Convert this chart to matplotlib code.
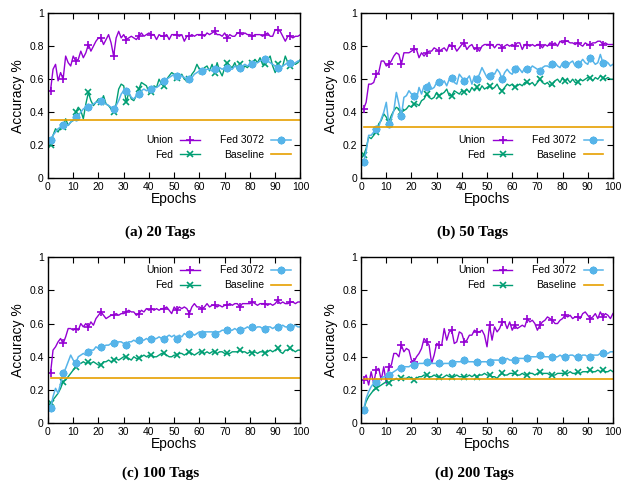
import numpy as np
import matplotlib
matplotlib.use("Agg")
import matplotlib.pyplot as plt

plt.rcParams['font.family'] = ['Liberation Sans', 'DejaVu Sans']

epochs = np.arange(1, 101)

# (a) 20 tags
union_20 = [0.53, 0.66, 0.69, 0.59, 0.64, 0.60, 0.74, 0.70, 0.68, 0.74,
            0.71, 0.72, 0.77, 0.73, 0.76, 0.81, 0.77, 0.80, 0.83, 0.85,
            0.85, 0.81, 0.84, 0.87, 0.82, 0.74, 0.85, 0.89, 0.85, 0.87,
            0.84, 0.85, 0.86, 0.85, 0.84, 0.86, 0.88, 0.86, 0.87, 0.88,
            0.87, 0.87, 0.84, 0.87, 0.86, 0.86, 0.87, 0.84, 0.87, 0.87,
            0.87, 0.86, 0.87, 0.83, 0.86, 0.86, 0.87, 0.86, 0.87, 0.87,
            0.87, 0.86, 0.88, 0.87, 0.88, 0.89, 0.87, 0.87, 0.86, 0.88,
            0.85, 0.87, 0.86, 0.86, 0.88, 0.88, 0.87, 0.88, 0.87, 0.87,
            0.86, 0.87, 0.87, 0.87, 0.86, 0.87, 0.88, 0.86, 0.86, 0.90,
            0.90, 0.89, 0.86, 0.83, 0.86, 0.86, 0.85, 0.86, 0.86, 0.87]
fed_20 = [0.20, 0.26, 0.30, 0.28, 0.31, 0.31, 0.36, 0.32, 0.34, 0.35,
          0.40, 0.43, 0.41, 0.36, 0.45, 0.52, 0.47, 0.44, 0.46, 0.48,
          0.46, 0.50, 0.45, 0.44, 0.42, 0.40, 0.45, 0.54, 0.57, 0.56,
          0.46, 0.52, 0.48, 0.47, 0.50, 0.54, 0.58, 0.57, 0.56, 0.52,
          0.52, 0.56, 0.55, 0.60, 0.57, 0.56, 0.60, 0.62, 0.64, 0.63,
          0.61, 0.62, 0.63, 0.60, 0.59, 0.60, 0.63, 0.65, 0.69, 0.66,
          0.65, 0.67, 0.68, 0.65, 0.69, 0.64, 0.70, 0.65, 0.62, 0.67,
          0.70, 0.68, 0.67, 0.70, 0.66, 0.69, 0.66, 0.68, 0.67, 0.69,
          0.70, 0.72, 0.70, 0.73, 0.69, 0.69, 0.72, 0.74, 0.68, 0.64,
          0.69, 0.67, 0.68, 0.74, 0.70, 0.68, 0.70, 0.69, 0.70, 0.72]
fed3072_20 = [0.23, 0.26, 0.28, 0.30, 0.31, 0.32, 0.33, 0.32, 0.34, 0.35,
              0.37, 0.38, 0.40, 0.42, 0.43, 0.43, 0.44, 0.45, 0.46, 0.46,
              0.47, 0.46, 0.45, 0.44, 0.43, 0.42, 0.44, 0.47, 0.51, 0.53,
              0.53, 0.52, 0.49, 0.48, 0.50, 0.51, 0.53, 0.54, 0.53, 0.54,
              0.54, 0.55, 0.55, 0.56, 0.58, 0.59, 0.60, 0.61, 0.62, 0.63,
              0.62, 0.63, 0.62, 0.61, 0.60, 0.60, 0.61, 0.63, 0.64, 0.65,
              0.65, 0.65, 0.66, 0.66, 0.65, 0.66, 0.66, 0.67, 0.66, 0.67,
              0.67, 0.66, 0.66, 0.68, 0.67, 0.67, 0.68, 0.69, 0.68, 0.69,
              0.69, 0.70, 0.70, 0.71, 0.72, 0.72, 0.71, 0.70, 0.69, 0.68,
              0.67, 0.67, 0.68, 0.69, 0.70, 0.70, 0.69, 0.70, 0.71, 0.71]
baseline_20 = 0.35

# (b) 50 tags
union_50 = [0.42, 0.46, 0.57, 0.57, 0.58, 0.63, 0.64, 0.71, 0.71, 0.68,
            0.69, 0.71, 0.74, 0.76, 0.75, 0.69, 0.76, 0.76, 0.76, 0.77,
            0.78, 0.78, 0.73, 0.76, 0.74, 0.76, 0.77, 0.77, 0.79, 0.78,
            0.77, 0.78, 0.79, 0.77, 0.81, 0.80, 0.80, 0.77, 0.79, 0.81,
            0.82, 0.78, 0.80, 0.81, 0.78, 0.79, 0.77, 0.80, 0.81, 0.81,
            0.81, 0.81, 0.79, 0.81, 0.81, 0.79, 0.80, 0.81, 0.80, 0.81,
            0.80, 0.82, 0.82, 0.78, 0.81, 0.81, 0.80, 0.81, 0.80, 0.81,
            0.81, 0.79, 0.81, 0.80, 0.82, 0.81, 0.82, 0.80, 0.83, 0.82,
            0.83, 0.83, 0.82, 0.82, 0.81, 0.82, 0.81, 0.80, 0.82, 0.81,
            0.81, 0.82, 0.82, 0.83, 0.83, 0.81, 0.82, 0.81, 0.81, 0.81]
fed_50 = [0.14, 0.18, 0.25, 0.24, 0.26, 0.28, 0.33, 0.35, 0.39, 0.37,
          0.34, 0.38, 0.41, 0.43, 0.42, 0.40, 0.41, 0.42, 0.44, 0.43,
          0.45, 0.45, 0.44, 0.47, 0.48, 0.51, 0.49, 0.48, 0.49, 0.52,
          0.50, 0.51, 0.52, 0.54, 0.50, 0.50, 0.53, 0.52, 0.51, 0.53,
          0.52, 0.54, 0.52, 0.55, 0.53, 0.55, 0.53, 0.56, 0.54, 0.55,
          0.56, 0.54, 0.55, 0.57, 0.54, 0.53, 0.55, 0.57, 0.56, 0.57,
          0.55, 0.56, 0.57, 0.56, 0.58, 0.58, 0.57, 0.58, 0.56, 0.58,
          0.60, 0.58, 0.57, 0.58, 0.56, 0.57, 0.59, 0.60, 0.58, 0.61,
          0.59, 0.60, 0.58, 0.60, 0.58, 0.58, 0.60, 0.59, 0.60, 0.61,
          0.61, 0.59, 0.61, 0.60, 0.62, 0.61, 0.60, 0.61, 0.60, 0.60]
fed3072_50 = [0.10, 0.16, 0.26, 0.26, 0.28, 0.30, 0.31, 0.36, 0.40, 0.46,
              0.33, 0.36, 0.41, 0.52, 0.45, 0.38, 0.49, 0.50, 0.53, 0.51,
              0.50, 0.48, 0.55, 0.51, 0.56, 0.55, 0.58, 0.54, 0.55, 0.58,
              0.58, 0.57, 0.59, 0.56, 0.60, 0.61, 0.58, 0.57, 0.63, 0.61,
              0.59, 0.60, 0.62, 0.57, 0.62, 0.60, 0.63, 0.67, 0.64, 0.61,
              0.62, 0.64, 0.63, 0.66, 0.64, 0.60, 0.64, 0.66, 0.64, 0.63,
              0.66, 0.68, 0.66, 0.64, 0.67, 0.66, 0.66, 0.68, 0.67, 0.66,
              0.65, 0.67, 0.68, 0.68, 0.67, 0.69, 0.70, 0.68, 0.67, 0.70,
              0.69, 0.68, 0.70, 0.71, 0.68, 0.69, 0.70, 0.72, 0.70, 0.69,
              0.73, 0.71, 0.69, 0.70, 0.75, 0.70, 0.71, 0.70, 0.68, 0.69]
baseline_50 = 0.31

# (c) 100 tags
union_100 = [0.30, 0.44, 0.46, 0.49, 0.51, 0.48, 0.52, 0.57, 0.57, 0.56,
             0.57, 0.56, 0.60, 0.58, 0.60, 0.58, 0.61, 0.59, 0.63, 0.65,
             0.67, 0.65, 0.63, 0.64, 0.65, 0.65, 0.66, 0.65, 0.66, 0.66,
             0.67, 0.68, 0.67, 0.67, 0.65, 0.66, 0.68, 0.67, 0.69, 0.68,
             0.69, 0.68, 0.69, 0.68, 0.69, 0.69, 0.70, 0.68, 0.66, 0.70,
             0.68, 0.70, 0.69, 0.70, 0.69, 0.66, 0.70, 0.72, 0.70, 0.70,
             0.69, 0.70, 0.72, 0.70, 0.71, 0.71, 0.70, 0.71, 0.70, 0.71,
             0.71, 0.72, 0.71, 0.72, 0.72, 0.70, 0.72, 0.72, 0.72, 0.72,
             0.73, 0.72, 0.71, 0.72, 0.72, 0.72, 0.71, 0.72, 0.71, 0.72,
             0.74, 0.72, 0.73, 0.72, 0.72, 0.73, 0.73, 0.72, 0.73, 0.73]
fed_100 = [0.12, 0.14, 0.16, 0.18, 0.21, 0.25, 0.26, 0.28, 0.30, 0.32,
           0.34, 0.36, 0.36, 0.37, 0.36, 0.37, 0.36, 0.37, 0.36, 0.35,
           0.35, 0.37, 0.37, 0.38, 0.37, 0.38, 0.39, 0.38, 0.39, 0.40,
           0.40, 0.39, 0.38, 0.40, 0.39, 0.39, 0.40, 0.41, 0.40, 0.41,
           0.41, 0.40, 0.40, 0.41, 0.42, 0.42, 0.41, 0.40, 0.40, 0.41,
           0.41, 0.42, 0.42, 0.41, 0.42, 0.43, 0.42, 0.41, 0.42, 0.43,
           0.43, 0.42, 0.43, 0.42, 0.43, 0.43, 0.42, 0.43, 0.43, 0.42,
           0.42, 0.42, 0.43, 0.43, 0.43, 0.44, 0.43, 0.43, 0.42, 0.43,
           0.42, 0.43, 0.42, 0.43, 0.43, 0.42, 0.43, 0.44, 0.43, 0.44,
           0.45, 0.43, 0.42, 0.44, 0.44, 0.45, 0.44, 0.43, 0.44, 0.44]
fed3072_100 = [0.09, 0.16, 0.21, 0.18, 0.24, 0.30, 0.33, 0.37, 0.41, 0.38,
               0.36, 0.40, 0.41, 0.42, 0.41, 0.43, 0.44, 0.44, 0.46, 0.45,
               0.46, 0.46, 0.47, 0.47, 0.48, 0.48, 0.48, 0.49, 0.49, 0.48,
               0.47, 0.49, 0.49, 0.50, 0.49, 0.50, 0.50, 0.50, 0.51, 0.50,
               0.51, 0.51, 0.51, 0.52, 0.51, 0.51, 0.52, 0.53, 0.52, 0.53,
               0.51, 0.53, 0.52, 0.54, 0.53, 0.54, 0.54, 0.53, 0.54, 0.55,
               0.54, 0.55, 0.55, 0.55, 0.55, 0.54, 0.55, 0.55, 0.56, 0.56,
               0.56, 0.56, 0.56, 0.57, 0.56, 0.56, 0.57, 0.57, 0.58, 0.57,
               0.58, 0.57, 0.58, 0.58, 0.57, 0.57, 0.58, 0.58, 0.57, 0.58,
               0.58, 0.58, 0.59, 0.58, 0.58, 0.58, 0.58, 0.59, 0.58, 0.58]
baseline_100 = 0.275

# (d) 200 tags
union_200 = [0.26, 0.29, 0.23, 0.31, 0.24, 0.32, 0.33, 0.26, 0.34, 0.24,
             0.34, 0.35, 0.42, 0.42, 0.40, 0.47, 0.43, 0.45, 0.44, 0.38,
             0.37, 0.40, 0.42, 0.45, 0.51, 0.49, 0.47, 0.36, 0.41, 0.48,
             0.47, 0.47, 0.57, 0.50, 0.55, 0.56, 0.48, 0.49, 0.55, 0.54,
             0.49, 0.50, 0.53, 0.53, 0.56, 0.55, 0.55, 0.56, 0.53, 0.46,
             0.59, 0.50, 0.58, 0.55, 0.57, 0.61, 0.61, 0.57, 0.61, 0.56,
             0.59, 0.57, 0.58, 0.59, 0.58, 0.63, 0.61, 0.62, 0.60, 0.56,
             0.59, 0.61, 0.62, 0.64, 0.63, 0.62, 0.60, 0.60, 0.62, 0.63,
             0.65, 0.64, 0.65, 0.63, 0.64, 0.64, 0.63, 0.66, 0.67, 0.65,
             0.63, 0.64, 0.66, 0.63, 0.67, 0.64, 0.66, 0.65, 0.63, 0.66]
fed_200 = [0.08, 0.13, 0.16, 0.18, 0.20, 0.21, 0.22, 0.23, 0.24, 0.25,
           0.24, 0.26, 0.26, 0.27, 0.26, 0.27, 0.27, 0.27, 0.28, 0.27,
           0.26, 0.27, 0.28, 0.28, 0.29, 0.29, 0.28, 0.28, 0.29, 0.28,
           0.28, 0.27, 0.28, 0.29, 0.28, 0.28, 0.28, 0.29, 0.28, 0.28,
           0.28, 0.28, 0.29, 0.28, 0.29, 0.28, 0.29, 0.29, 0.30, 0.29,
           0.29, 0.28, 0.28, 0.27, 0.29, 0.30, 0.29, 0.29, 0.30, 0.30,
           0.30, 0.29, 0.29, 0.30, 0.29, 0.29, 0.30, 0.30, 0.29, 0.30,
           0.31, 0.30, 0.30, 0.30, 0.29, 0.29, 0.29, 0.30, 0.30, 0.30,
           0.30, 0.30, 0.31, 0.30, 0.30, 0.31, 0.30, 0.31, 0.31, 0.31,
           0.32, 0.31, 0.31, 0.32, 0.31, 0.32, 0.31, 0.31, 0.32, 0.31]
fed3072_200 = [0.08, 0.15, 0.19, 0.22, 0.24, 0.25, 0.26, 0.27, 0.28, 0.28,
               0.29, 0.30, 0.31, 0.32, 0.33, 0.33, 0.34, 0.34, 0.34, 0.35,
               0.35, 0.35, 0.36, 0.36, 0.36, 0.37, 0.36, 0.36, 0.36, 0.36,
               0.36, 0.35, 0.36, 0.36, 0.36, 0.36, 0.37, 0.37, 0.37, 0.37,
               0.38, 0.37, 0.37, 0.37, 0.37, 0.37, 0.37, 0.37, 0.37, 0.37,
               0.37, 0.38, 0.38, 0.38, 0.38, 0.38, 0.38, 0.39, 0.38, 0.38,
               0.38, 0.39, 0.39, 0.39, 0.39, 0.39, 0.40, 0.40, 0.40, 0.40,
               0.41, 0.40, 0.40, 0.40, 0.40, 0.40, 0.40, 0.40, 0.41, 0.40,
               0.40, 0.40, 0.41, 0.41, 0.40, 0.40, 0.40, 0.41, 0.41, 0.40,
               0.40, 0.41, 0.41, 0.41, 0.42, 0.42, 0.42, 0.42, 0.43, 0.43]
baseline_200 = 0.265

panels = [
    ("(a) 20 Tags", union_20, fed_20, fed3072_20, baseline_20, "lower right"),
    ("(b) 50 Tags", union_50, fed_50, fed3072_50, baseline_50, "lower right"),
    ("(c) 100 Tags", union_100, fed_100, fed3072_100, baseline_100, "upper right"),
    ("(d) 200 Tags", union_200, fed_200, fed3072_200, baseline_200, "upper right"),
]

# axes rectangles in figure fractions, caption centres
rects = [
    [0.0764, 0.634, 0.402, 0.339],
    [0.575, 0.634, 0.401, 0.339],
    [0.0764, 0.131, 0.402, 0.341],
    [0.575, 0.131, 0.401, 0.341],
]
cap_pos = [(0.255, 0.523), (0.752, 0.523), (0.255, 0.029), (0.755, 0.029)]

c_union = "#9400d3"
c_fed = "#009e73"
c_f3072 = "#56b4e9"
c_base = "#e69f00"

fig = plt.figure(figsize=(6.28, 4.87), dpi=100)

for i, (title, u, f, f3, base, loc) in enumerate(panels):
    ax = fig.add_axes(rects[i])
    ax.plot(epochs, u, color=c_union, lw=1, marker="+", ms=6, mew=1.2,
            markevery=(0, 5), label="Union")
    ax.plot(epochs, f, color=c_fed, lw=1, marker="x", ms=5, mew=1.2,
            markevery=(0, 5), label="Fed")
    ax.plot(epochs, f3, color=c_f3072, lw=1.1, marker=(8, 2, 0), ms=5.5, mew=1.4,
            markevery=(0, 5), label="Fed 3072")
    ax.plot(epochs, np.full(len(epochs), base), color=c_base, lw=1.2, label="Baseline")

    ax.set_xlim(0, 100)
    ax.set_ylim(0, 1)
    ax.set_xticks(range(0, 101, 10))
    ax.set_yticks([0, 0.2, 0.4, 0.6, 0.8, 1])
    ax.set_yticklabels(["0", "0.2", "0.4", "0.6", "0.8", "1"])
    ax.tick_params(direction="in", top=True, right=True, length=4, width=0.8,
                   labelsize=7.5, pad=3)
    for s in ax.spines.values():
        s.set_linewidth(1)
    ax.set_xlabel("Epochs", fontsize=10, labelpad=0)
    ax.set_ylabel("Accuracy %", fontsize=10, labelpad=3)

    if loc == "lower right":
        anchor = (0.995, 0.06)
    else:
        anchor = (0.995, 1.0)
    ax.legend(loc=loc, bbox_to_anchor=anchor, ncol=2, markerfirst=False,
              frameon=False, fontsize=7.5, numpoints=1, handlelength=1.9,
              handletextpad=0.7, columnspacing=1.9, labelspacing=0.45,
              borderpad=0.3)

    fig.text(cap_pos[i][0], cap_pos[i][1], title, ha="center", va="center",
             fontsize=11, fontweight="bold", family=["Liberation Serif", "DejaVu Serif"])

fig.savefig("out.png", dpi=100)
